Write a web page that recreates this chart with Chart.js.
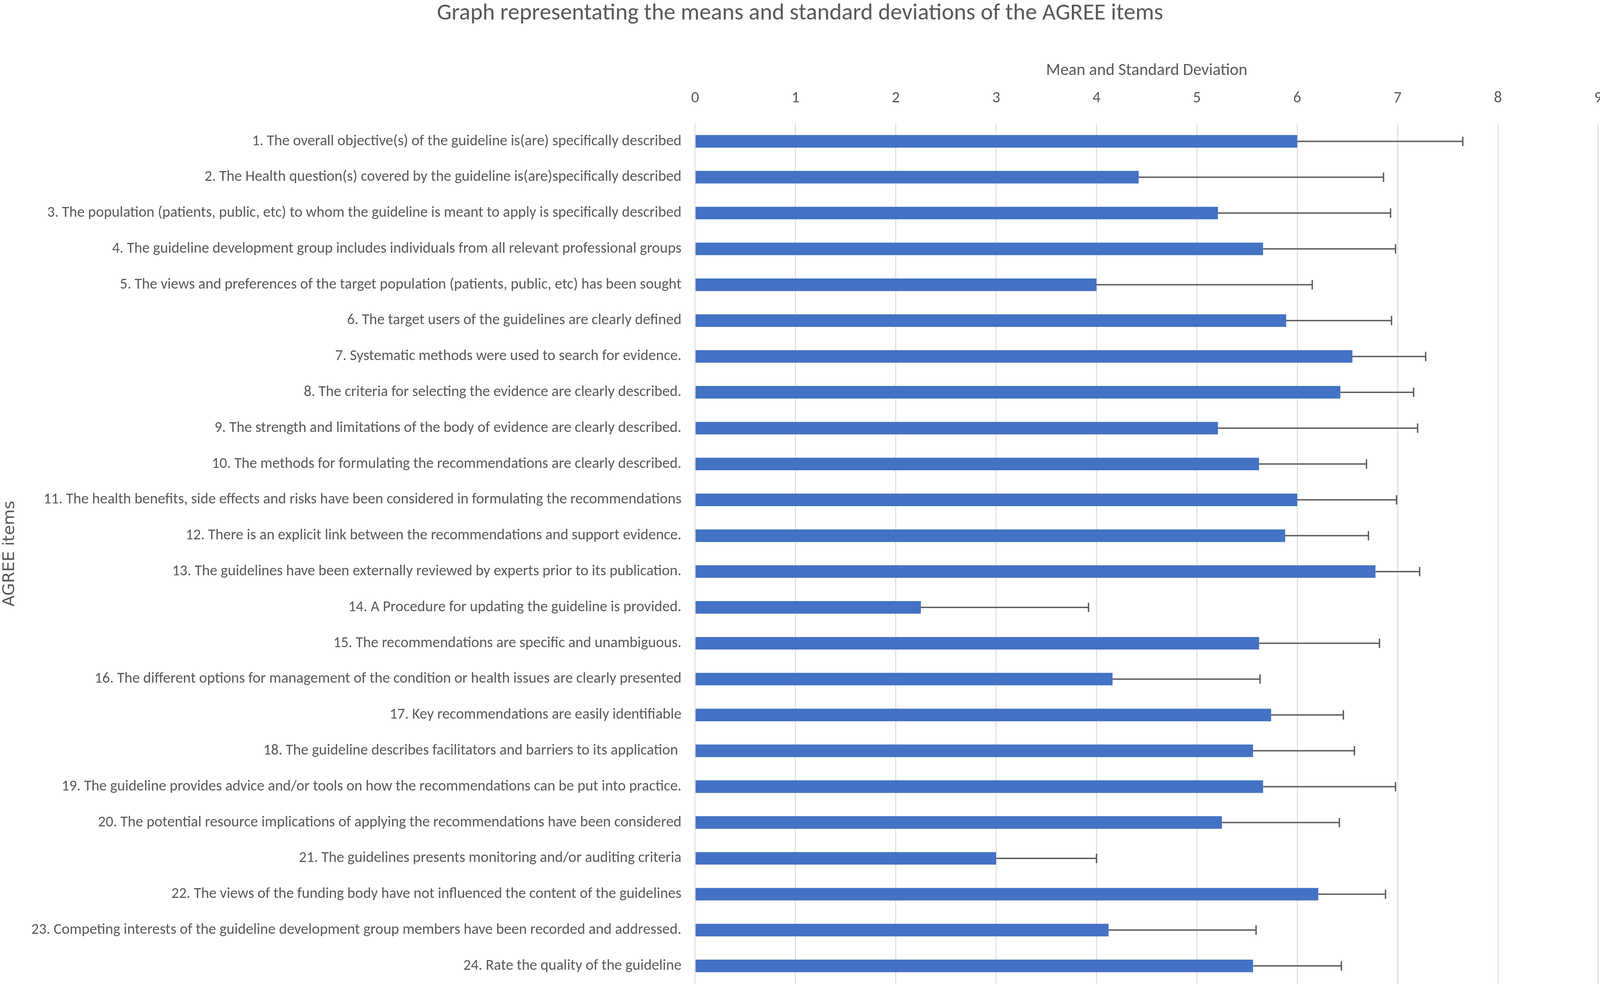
<!DOCTYPE html>
<html>
<head>
<meta charset="utf-8">
<title>AGREE items</title>
<script src="https://cdn.jsdelivr.net/npm/chart.js@4.4.1/dist/chart.umd.min.js"></script>
<style>
  html, body { margin: 0; padding: 0; background: #ffffff; overflow: hidden; }
  canvas { display: block; }
</style>
</head>
<body>
<canvas id="agreeChart"></canvas>
<script>
// AGREE item labels, as printed next to each bar
const items = [
    '1. The overall objective(s) of the guideline is(are) specifically described',
    '2. The Health question(s) covered by the guideline is(are)specifically described',
    '3. The population (patients, public, etc) to whom the guideline is meant to apply is specifically described',
    '4. The guideline development group includes individuals from all relevant professional groups',
    '5. The views and preferences of the target population (patients, public, etc) has been sought',
    '6. The target users of the guidelines are clearly defined',
    '7. Systematic methods were used to search for evidence.',
    '8. The criteria for selecting the evidence are clearly described.',
    '9. The strength and limitations of the body of evidence are clearly described.',
    '10. The methods for formulating the recommendations are clearly described.',
    '11. The health benefits, side effects and risks have been considered in formulating the recommendations',
    '12. There is an explicit link between the recommendations and support evidence.',
    '13. The guidelines have been externally reviewed by experts prior to its publication.',
    '14. A Procedure for updating the guideline is provided.',
    '15. The recommendations are specific and unambiguous.',
    '16. The different options for management of the condition or health issues are clearly presented',
    '17. Key recommendations are easily identifiable',
    '18. The guideline describes facilitators and barriers to its application ',
    '19. The guideline provides advice and/or tools on how the recommendations can be put into practice.',
    '20. The potential resource implications of applying the recommendations have been considered',
    '21. The guidelines presents monitoring and/or auditing criteria',
    '22. The views of the funding body have not influenced the content of the guidelines',
    '23. Competing interests of the guideline development group members have been recorded and addressed.',
    '24. Rate the quality of the guideline'
];

// means (bar length) and standard deviations (error bar, plus side only)
const means = [6.00, 4.42, 5.21, 5.66, 4.00, 5.89, 6.55, 6.43, 5.21, 5.62, 6.00, 5.88,
               6.78, 2.25, 5.62, 4.16, 5.74, 5.56, 5.66, 5.25, 3.00, 6.21, 4.12, 5.56];
const sds   = [1.65, 2.44, 1.72, 1.32, 2.15, 1.05, 0.73, 0.73, 1.99, 1.07, 0.99, 0.83,
               0.44, 1.67, 1.20, 1.47, 0.72, 1.01, 1.32, 1.17, 1.00, 0.67, 1.47, 0.88];

// x axis range and ticks
const axisMin = 0;
const axisMax = 9;
const axisStep = 1;

const chartTitle = 'Graph representating the means and standard deviations of the AGREE items';
const xTitle = 'Mean and Standard Deviation';
const yTitle = 'AGREE items';

// the reference was laid out on a 4562 x 2522 sheet; scale to the actual window
const W = window.innerWidth;
const H = window.innerHeight;
const sx = W / 4562;
const sy = H / 2522;

const textGrey = '#595959';
const mainFont = "Carlito, 'Liberation Sans', sans-serif";
const sideFont = "'DejaVu Sans', sans-serif";

// pick a font size so a string comes out as wide as it is in the reference
const measureCtx = document.createElement('canvas').getContext('2d');
function fitSize(text, family, targetWidth) {
    measureCtx.font = '100px ' + family;
    return 100 * targetWidth / measureCtx.measureText(text).width;
}

const titleSize = fitSize(chartTitle, mainFont, 2071 * sx);
const xTitleSize = fitSize(xTitle, mainFont, 574 * sx);
const labelSize = fitSize(items[2], mainFont, 1809 * sx);
const tickSize = labelSize * 1.05;
const yTitleSize = fitSize(yTitle, sideFont, 271 * sy);

// vertical layout, from the reference positions
const chartTop = 316 * sy;
const chartBottom = 2519 * sy;
const chartLeft = 1982 * sx;
const chartRight = 4557 * sx;
const tickLH = tickSize * 1.2;
const xTitleLH = xTitleSize * 1.2;
const titleLH = titleSize * 1.05;
const tickPad = chartTop - 252 * sy - tickLH / 2;
const xTitleBottom = chartTop - tickLH - tickPad - xTitleLH / 2 - 181 * sy;
const axisTop = chartTop - tickLH - tickPad - xTitleLH - xTitleBottom;
const titleTop = Math.max(0, 35 * sy - titleLH / 2);
const titleBottom = axisTop - titleTop - titleLH;
const yTitleLH = yTitleSize * 1.2;
const yTitlePad = Math.max(0, 25 * sx - yTitleLH / 2);

const canvas = document.getElementById('agreeChart');
canvas.width = W;
canvas.height = H;
canvas.style.width = W + 'px';
canvas.style.height = H + 'px';

// draws the standard deviation whiskers to the right of each bar
const errorBars = {
    id: 'errorBars',
    afterDatasetsDraw(chart) {
        const ctx = chart.ctx;
        const xScale = chart.scales.x;
        const meta = chart.getDatasetMeta(0);
        const cap = 12 * sy;
        ctx.save();
        ctx.strokeStyle = '#595959';
        ctx.lineWidth = 3.5 * sy;
        meta.data.forEach((bar, i) => {
            const x0 = xScale.getPixelForValue(means[i]);
            const x1 = xScale.getPixelForValue(means[i] + sds[i]);
            ctx.beginPath();
            ctx.moveTo(x0, bar.y);
            ctx.lineTo(x1, bar.y);
            ctx.moveTo(x1, bar.y - cap);
            ctx.lineTo(x1, bar.y + cap);
            ctx.stroke();
        });
        ctx.restore();
    }
};

const agreeChart = new Chart(canvas.getContext('2d'), {
    type: 'bar',
    data: {
        labels: items,
        datasets: [{
            label: 'Mean',
            data: means,
            backgroundColor: '#4472C4',
            borderWidth: 0,
            categoryPercentage: 1.0,
            barPercentage: 0.35
        }]
    },
    options: {
        indexAxis: 'y',
        responsive: false,
        devicePixelRatio: 1,
        animation: false,
        layout: {
            padding: { left: 0, right: 0, top: 0, bottom: H - chartBottom }
        },
        plugins: {
            legend: { display: false },
            tooltip: { enabled: false },
            title: {
                display: true,
                text: chartTitle,
                color: textGrey,
                font: { family: mainFont, size: titleSize, weight: 'normal', lineHeight: 1.05 },
                padding: { top: titleTop, bottom: titleBottom }
            }
        },
        scales: {
            x: {
                position: 'top',
                min: axisMin,
                max: axisMax,
                ticks: {
                    stepSize: axisStep,
                    color: textGrey,
                    padding: tickPad,
                    maxRotation: 0,
                    font: { family: mainFont, size: tickSize, lineHeight: 1.2 }
                },
                grid: {
                    color: '#d9d9d9',
                    lineWidth: 2.5 * sx,
                    drawTicks: false
                },
                border: { display: false },
                title: {
                    display: true,
                    text: xTitle,
                    color: textGrey,
                    font: { family: mainFont, size: xTitleSize, lineHeight: 1.2 },
                    // chart.js reserves the tick padding twice, take one back here
                    padding: { top: 0, bottom: xTitleBottom - tickPad }
                },
                afterFit(scale) {
                    // let the last tick label run off the edge, as in the reference
                    scale.paddingLeft = 0;
                    scale.paddingRight = W - chartRight;
                }
            },
            y: {
                ticks: {
                    color: textGrey,
                    padding: 39 * sx,
                    font: { family: mainFont, size: labelSize }
                },
                grid: { display: false, drawTicks: false },
                border: { display: false },
                title: {
                    display: true,
                    text: yTitle,
                    color: textGrey,
                    font: { family: sideFont, size: yTitleSize, lineHeight: 1.2 },
                    padding: { top: yTitlePad, bottom: 0 }
                },
                afterFit(scale) {
                    scale.width = chartLeft;
                    // the plot should reach the bottom edge like the reference
                    scale.paddingTop = 0;
                    scale.paddingBottom = 0;
                }
            }
        }
    },
    plugins: [errorBars]
});
</script>
</body>
</html>
